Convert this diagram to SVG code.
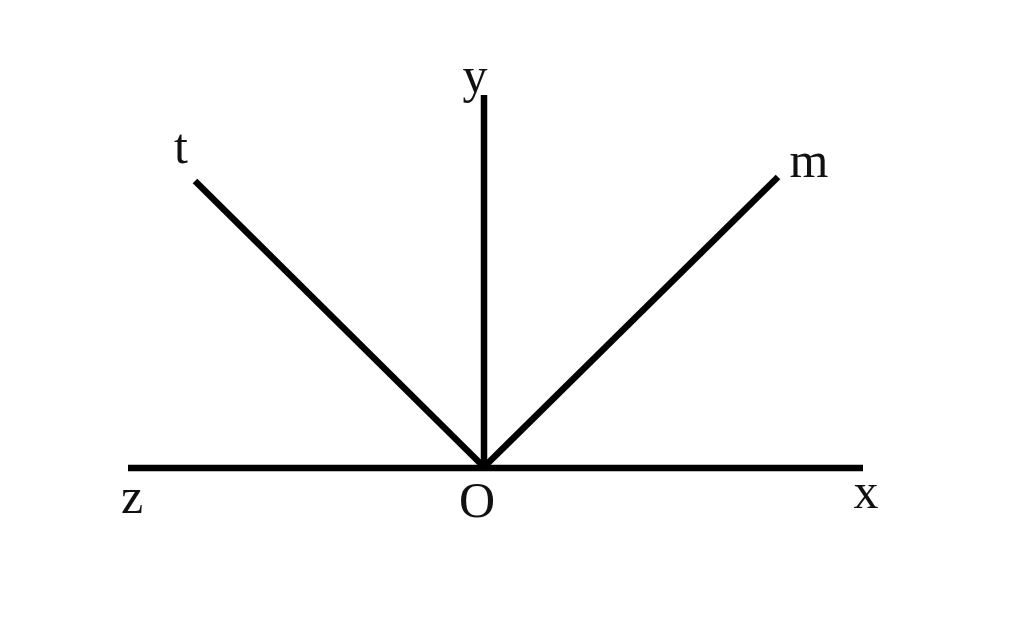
<svg xmlns="http://www.w3.org/2000/svg" width="1024" height="642" viewBox="0 0 1024 642">
<style>
.ln{stroke:#000;stroke-width:6.5;fill:none;stroke-linecap:butt}
.lb{font-family:"Liberation Serif","DejaVu Serif",serif;font-size:50px;fill:#111;text-anchor:middle}
</style>
<rect width="1024" height="642" fill="#fff"/>
<g id="connectors">
<line class="ln" x1="128" y1="468" x2="863" y2="468"/>
<line class="ln" x1="484" y1="95" x2="484" y2="468"/>
<line class="ln" x1="195" y1="181" x2="484" y2="467"/>
<line class="ln" x1="778" y1="177" x2="484" y2="467"/>
</g>
<g id="label-y"><text class="lb" x="475" y="92">y</text></g>
<g id="label-t"><text class="lb" x="181" y="163">t</text></g>
<g id="label-m"><text class="lb" x="809" y="177">m</text></g>
<g id="label-z"><text class="lb" x="132" y="513">z</text></g>
<g id="label-O"><text class="lb" x="477" y="517">O</text></g>
<g id="label-x"><text class="lb" x="866" y="508">x</text></g>
</svg>
